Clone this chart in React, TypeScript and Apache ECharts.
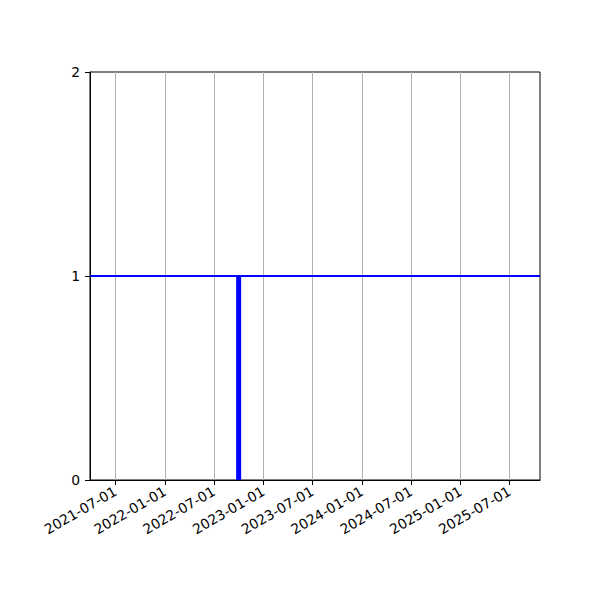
import React, { useRef, useEffect } from "react";
import * as echarts from "echarts";

// x range of the axes (dates)
const xRange = ["2021-03-29", "2025-10-22"];
// tick labels on the date axis
const tickLabels = [
  "2021-07-01",
  "2022-01-01",
  "2022-07-01",
  "2023-01-01",
  "2023-07-01",
  "2024-01-01",
  "2024-07-01",
  "2025-01-01",
  "2025-07-01",
];
// single event (vertical bar) and the level line
const eventDates = ["2022-10-01"];
const eventValues = [1];
const levelValue = 1;
const yTicks = [0, 1, 2];

const toTime = (s: string) => {
  const [y, m, d] = s.split("-").map(Number);
  return Date.UTC(y, m - 1, d);
};
const pad = (n: number) => (n < 10 ? "0" + n : "" + n);
const fmt = (t: number) => {
  const d = new Date(t);
  return d.getUTCFullYear() + "-" + pad(d.getUTCMonth() + 1) + "-" + pad(d.getUTCDate());
};

const App = function () {
  const chart = useRef<HTMLDivElement>(null);
  useEffect(() => {
    if (!chart.current) return;
    const myChart = echarts.init(chart.current, null, { renderer: "svg" });
    const xMin = toTime(xRange[0]);
    const xMax = toTime(xRange[1]);
    const ticks = tickLabels.map(toTime);
    const font = "DejaVu Sans";
    const option = {
      animation: false,
      grid: {
        left: 90,
        right: 60,
        top: 72,
        bottom: 120,
        show: true,
        borderColor: "#000",
        borderWidth: 1,
        backgroundColor: "transparent",
      },
      xAxis: {
        type: "value",
        min: xMin,
        max: xMax,
        axisLine: { show: true, onZero: false, lineStyle: { color: "#000", width: 1 } },
        axisTick: {
          show: true,
          length: 5,
          lineStyle: { color: "#000", width: 1 },
          customValues: ticks,
        },
        axisLabel: {
          show: true,
          customValues: ticks,
          rotate: 30,
          margin: 10,
          color: "#000",
          fontFamily: font,
          fontSize: 13.9,
          formatter: (v: number) => fmt(v),
        },
        splitLine: { show: true, lineStyle: { color: "#b0b0b0", width: 1 } },
      },
      yAxis: {
        type: "value",
        min: yTicks[0],
        max: yTicks[yTicks.length - 1],
        interval: 1,
        axisLine: { show: true, lineStyle: { color: "#000", width: 1 } },
        axisTick: { show: true, length: 5, lineStyle: { color: "#000", width: 1 } },
        axisLabel: {
          margin: 10,
          color: "#000",
          fontFamily: font,
          fontSize: 13.9,
        },
        splitLine: { show: false },
      },
      series: [
        {
          type: "line",
          data: [
            [xMin, levelValue],
            [xMax, levelValue],
          ],
          showSymbol: false,
          symbol: "none",
          lineStyle: { color: "#0000ff", width: 2 },
          z: 3,
        },
        ...eventDates.map((d, i) => ({
          type: "line",
          data: [
            [toTime(d), 0],
            [toTime(d), eventValues[i]],
          ],
          showSymbol: false,
          symbol: "none",
          lineStyle: { color: "#0000ff", width: 5, cap: "butt" },
          z: 4,
        })),
      ],
    };
    myChart.setOption(option as any);
    return () => {
      myChart.dispose();
    };
  }, []);
  return <div ref={chart} style={{ width: 600, height: 600, margin: -8 }}></div>;
};
export default App;
